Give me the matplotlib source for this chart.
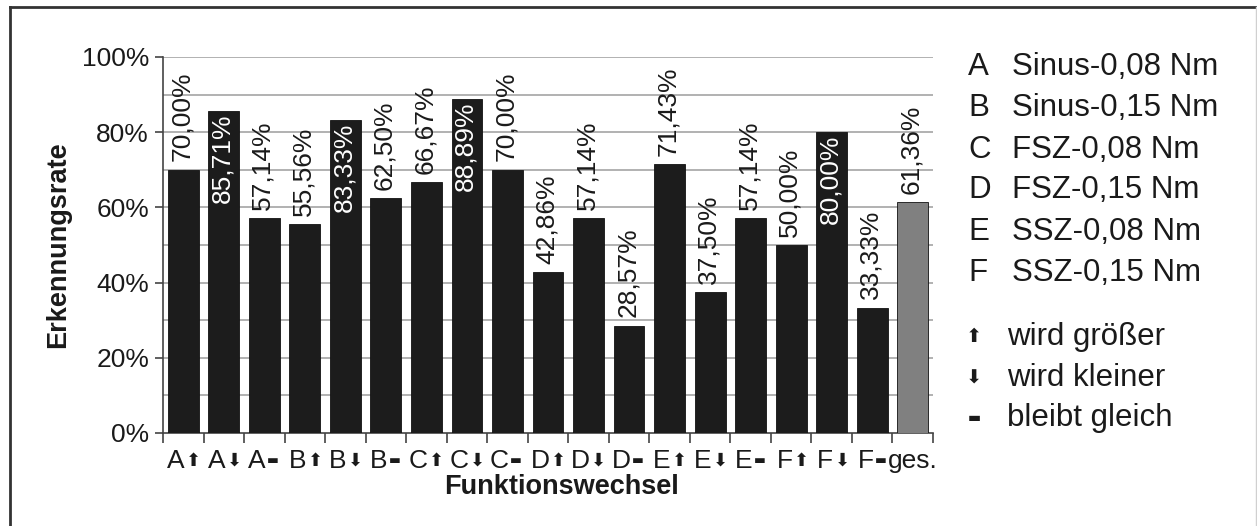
import matplotlib
matplotlib.use("Agg")
import matplotlib.pyplot as plt
from matplotlib.lines import Line2D

plt.rcParams['font.family'] = ['Liberation Sans', 'DejaVu Sans']

# Data
letters = ["A", "A", "A", "B", "B", "B", "C", "C", "C",
           "D", "D", "D", "E", "E", "E", "F", "F", "F", "ges."]
changes = ["up", "down", "same"] * 6 + [""]
rates = [70.00, 85.71, 57.14, 55.56, 83.33, 62.50, 66.67, 88.89, 70.00,
         42.86, 57.14, 28.57, 71.43, 37.50, 57.14, 50.00, 80.00, 33.33, 61.36]
bar_colors = ["#1c1c1c"] * 18 + ["#808080"]
legend_keys = ["A", "B", "C", "D", "E", "F"]
legend_names = ["Sinus-0,08 Nm", "Sinus-0,15 Nm", "FSZ-0,08 Nm",
                "FSZ-0,15 Nm", "SSZ-0,08 Nm", "SSZ-0,15 Nm"]
symbol_keys = ["up", "down", "same"]
symbol_names = ["wird größer", "wird kleiner", "bleibt gleich"]

W, H = 1257, 526
fig = plt.figure(figsize=(W / 100, H / 100), dpi=100)
ax = fig.add_axes([163 / W, 1 - 433 / H, (933 - 163) / W, (433 - 57) / H])

x = list(range(len(rates)))
ax.bar(x, rates, width=0.76, color=bar_colors, edgecolor="#111111",
       linewidth=0.6, zorder=3)

# value labels
for xi, v in zip(x, rates):
    txt = f"{v:.2f}".replace(".", ",") + "%"
    if v >= 80:
        ax.annotate(txt, (xi, v), xytext=(-1, -2), textcoords="offset points",
                    rotation=90, ha="center", va="top", fontsize=19,
                    color="white", zorder=4)
    else:
        ax.annotate(txt, (xi, v), xytext=(-1, 6), textcoords="offset points",
                    rotation=90, ha="center", va="bottom", fontsize=19,
                    color="#1a1a1a", zorder=4)

ax.set_xlim(-0.5, len(rates) - 0.5)
ax.set_ylim(0, 100)

# grid every 10%, labels every 20%
for g in range(10, 101, 10):
    ax.axhline(g, color="#ababab", lw=1.3, zorder=1)
ax.set_yticks(range(0, 101, 20))
ax.set_yticklabels([f"{t}%" for t in range(0, 101, 20)], fontsize=19,
                   color="#1a1a1a")
ax.tick_params(axis="y", length=6, width=1.2, color="#444444", pad=4)

ax.set_xticks([i - 0.5 for i in range(len(rates) + 1)])
ax.set_xticklabels([])
ax.tick_params(axis="x", length=7, width=1.2, color="#444444")

for s in ["top", "right"]:
    ax.spines[s].set_visible(False)
ax.spines["left"].set_color("#444444")
ax.spines["bottom"].set_color("#444444")
ax.spines["left"].set_linewidth(1.2)
ax.spines["bottom"].set_linewidth(1.2)

sym = {"up": "\u2b06", "down": "\u2b07", "same": "\u25ac"}
sym_size = {"up": 13, "down": 13, "same": 9}

# category labels: letter + small change symbol
for xi, lt, ch in zip(x, letters, changes):
    if ch:
        ax.annotate(lt, (xi, 0), xycoords=("data", "axes fraction"),
                    xytext=(1, -20), textcoords="offset points",
                    ha="right", va="center", fontsize=19, color="#1a1a1a")
        ax.annotate(sym[ch], (xi, 0), xycoords=("data", "axes fraction"),
                    xytext=(2, -20), textcoords="offset points",
                    ha="left", va="center", fontsize=sym_size[ch],
                    color="#1a1a1a", family=["DejaVu Sans"])
    else:
        ax.annotate(lt, (xi, 0), xycoords=("data", "axes fraction"),
                    xytext=(0, -20), textcoords="offset points",
                    ha="center", va="center", fontsize=19, color="#1a1a1a")

fig.text(561 / W, 1 - 487 / H, "Funktionswechsel", ha="center", va="center",
         fontsize=19.5, fontweight="bold", color="#1a1a1a")
fig.text(58 / W, 1 - 245 / H, "Erkennungsrate", ha="center", va="center",
         rotation=90, fontsize=19.5, fontweight="bold", color="#1a1a1a")

# legend text on the right
leg_y = [67, 108, 150, 190, 232, 273]
for yy, k, n in zip(leg_y, legend_keys, legend_names):
    fig.text(968 / W, 1 - yy / H, k, ha="left", va="center", fontsize=22.5,
             color="#1a1a1a")
    fig.text(1012 / W, 1 - yy / H, n, ha="left", va="center", fontsize=22.5,
             color="#1a1a1a")
sym_y = [337, 378, 418]
for yy, k, n in zip(sym_y, symbol_keys, symbol_names):
    fig.text(974 / W, 1 - yy / H, sym[k], ha="center", va="center",
             fontsize=sym_size[k] + 1, color="#1a1a1a", family=["DejaVu Sans"])
    fig.text(1007 / W, 1 - yy / H, n, ha="left", va="center", fontsize=22.5,
             color="#1a1a1a")

# frame around the figure
fig.add_artist(Line2D([10 / W, 10 / W], [0, 1 - 7 / H], transform=fig.transFigure,
                      color="#333333", lw=2))
fig.add_artist(Line2D([10 / W, 1256 / W], [1 - 7 / H, 1 - 7 / H],
                      transform=fig.transFigure, color="#333333", lw=2))
fig.add_artist(Line2D([1256 / W, 1256 / W], [0, 1 - 7 / H],
                      transform=fig.transFigure, color="#d0d0d0", lw=1))

fig.savefig("out.png", dpi=100)
